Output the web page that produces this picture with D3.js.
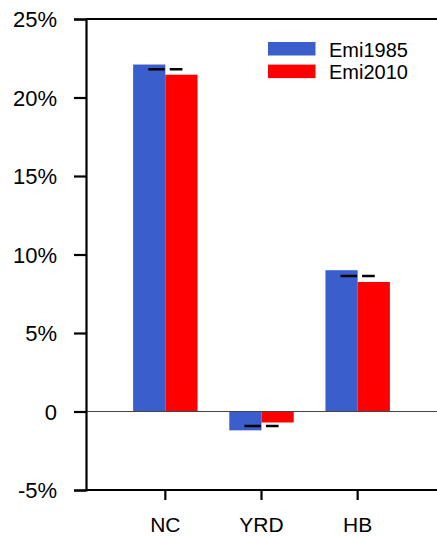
<!DOCTYPE html>
<html>
<head>
<meta charset="utf-8">
<script src="https://cdn.jsdelivr.net/npm/d3@7"></script>
<style>
  html, body { margin: 0; padding: 0; background: #fff; }
  svg { display: block; }
  text { font-family: "Liberation Sans", Arial, Helvetica, sans-serif; fill: #000; }
</style>
</head>
<body>
<svg id="chart" width="437" height="537"></svg>
<script>
// Regional emission shares (%)
const categories = ["NC", "YRD", "HB"];
const seriesNames = ["Emi1985", "Emi2010"];
const emi1985 = [22.1, -1.2, 9.0];
const emi2010 = [21.45, -0.7, 8.25];
// Reference level drawn as a dashed marker across each pair of bars
const refValues = [21.8, -0.92, 8.63];
const yTickValues = [-5, 0, 5, 10, 15, 20, 25];
const seriesColors = ["#3a5fcd", "#ff0000"];

const W = 437, H = 537;
const margin = { top: 19, right: -10, bottom: 47, left: 86 };
const svg = d3.select("#chart");

const y = d3.scaleLinear()
  .domain([-5, 25])
  .range([H - margin.bottom, margin.top]);

const x0 = d3.scaleBand()
  .domain(categories)
  .range([margin.left, 437])
  .paddingInner(0.33)
  .paddingOuter(0.49);

const x1 = d3.scaleBand()
  .domain(seriesNames)
  .range([0, x0.bandwidth()]);

const color = d3.scaleOrdinal().domain(seriesNames).range(seriesColors);

const rows = categories.map((c, i) => ({
  cat: c,
  values: [
    { key: seriesNames[0], v: emi1985[i] },
    { key: seriesNames[1], v: emi2010[i] }
  ],
  ref: refValues[i]
}));

// bars
const groups = svg.append("g")
  .selectAll("g")
  .data(rows)
  .join("g")
  .attr("transform", d => `translate(${x0(d.cat)},0)`);

groups.selectAll("rect")
  .data(d => d.values)
  .join("rect")
  .attr("x", d => x1(d.key))
  .attr("width", x1.bandwidth())
  .attr("y", d => y(Math.max(0, d.v)))
  .attr("height", d => Math.abs(y(d.v) - y(0)))
  .attr("fill", d => color(d.key));

// zero line
svg.append("line")
  .attr("x1", margin.left).attr("x2", W + 5)
  .attr("y1", y(0)).attr("y2", y(0))
  .attr("stroke", "#444").attr("stroke-width", 1);

// dashed reference markers
groups.append("line")
  .attr("x1", x0.bandwidth() / 2 - x1.bandwidth() * 0.53)
  .attr("x2", x0.bandwidth() / 2 + x1.bandwidth() * 0.53)
  .attr("y1", d => y(d.ref))
  .attr("y2", d => y(d.ref))
  .attr("stroke", "#000")
  .attr("stroke-width", 2.5)
  .attr("stroke-dasharray", "16.5,5");

// frame lines (top and bottom)
[margin.top, H - margin.bottom].forEach(yy => {
  svg.append("line")
    .attr("x1", margin.left).attr("x2", W + 5)
    .attr("y1", yy).attr("y2", yy)
    .attr("stroke", "#000").attr("stroke-width", 2.2);
});

// y axis
const yAxis = svg.append("g")
  .attr("transform", `translate(${margin.left},0)`)
  .call(d3.axisLeft(y)
    .tickValues(yTickValues)
    .tickSize(12)
    .tickPadding(17)
    .tickFormat(d => d === 0 ? "0" : d + "%"));
yAxis.select(".domain").attr("stroke", "#000").attr("stroke-width", 2.2);
yAxis.selectAll(".tick line").attr("stroke", "#000").attr("stroke-width", 2.2);
yAxis.selectAll("text")
  .attr("font-size", 22)
  .style("font-family", "'Liberation Sans', Arial, sans-serif")
  .attr("fill", "#000");
yAxis.selectAll(".tick text").attr("dy", "0.36em");

// x axis
const xAxis = svg.append("g")
  .attr("transform", `translate(0,${H - margin.bottom})`)
  .call(d3.axisBottom(x0).tickSize(10).tickPadding(17));
xAxis.select(".domain").remove();
xAxis.selectAll(".tick line").attr("stroke", "#000").attr("stroke-width", 2.2);
xAxis.selectAll("text")
  .attr("font-size", 21)
  .style("font-family", "'Liberation Sans', Arial, sans-serif")
  .attr("fill", "#000");

// legend
const legend = svg.append("g").attr("transform", "translate(268,42)");
seriesNames.forEach((name, i) => {
  const g = legend.append("g").attr("transform", `translate(0,${i * 22.6})`);
  g.append("rect")
    .attr("width", 47.5).attr("height", 13.5)
    .attr("fill", color(name));
  g.append("text")
    .attr("x", 61).attr("y", 14.6)
    .attr("font-size", 20)
    .text(name);
});
</script>
</body>
</html>
